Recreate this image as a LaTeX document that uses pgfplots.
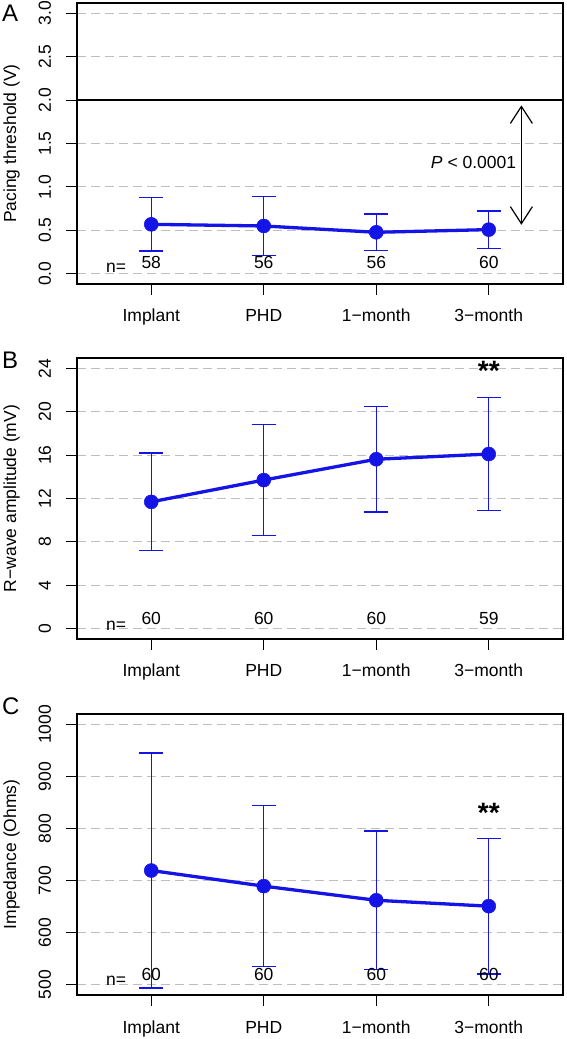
\documentclass[border=0pt]{standalone}
\usepackage{fontspec}
\setmainfont{Liberation Sans}
\usepackage{pgfplots}
\usepackage{pgfplotstable}
\pgfplotsset{compat=1.18}
\usetikzlibrary{arrows.meta}
\definecolor{rblue}{RGB}{20,20,230}
\definecolor{gridgray}{RGB}{190,190,190}
\newcommand\fs{\fontsize{17.5}{20}\selectfont}

\pgfplotstableread{
x y e
1 0.568 0.306
2 0.549 0.343
3 0.476 0.211
4 0.507 0.215
}\dataA
\pgfplotstableread{
x y e
1 11.69 4.51
2 13.70 5.10
3 15.62 4.85
4 16.10 5.20
}\dataB
\pgfplotstableread{
x y e
1 719.2 226
2 689.2 155
3 662.0 133
4 650.7 130
}\dataC

\pgfplotsset{
  rstyle/.style={
    scale only axis, width=486pt, height=281pt,
    anchor=south west,
    xmin=0.34, xmax=4.66,
    xtick={1,2,3,4}, xticklabels={Implant,PHD,1−month,3−month},
    axis line style={line width=1.3pt, black},
    tick align=outside,
    major tick length=11pt,
    every tick/.style={black, line width=1.1pt},
    xtick pos=lower, ytick pos=left,
    ymajorgrids,
    grid style={gridgray, line width=1.1pt, dash pattern=on 9pt off 5pt},
    tick label style={font=\fs},
    xticklabel style={anchor=base, yshift=-27pt},
    yticklabel style={xshift=-15pt, rotate=90, anchor=base},
    ylabel style={at={(axis description cs:-0.1255,0.5)}, anchor=base, font=\fs},
    /pgf/number format/assume math mode=true,
  },
  rline/.style={
    rblue, line width=3.3pt, mark=*, mark size=7pt,
    mark options={fill=rblue, draw=rblue, line width=0.5pt},
  },
  rerr/.style={
    forget plot, draw=none, mark=none,
    error bars/.cd, y dir=both, y explicit,
    error bar style={draw=rblue, line width=1.4pt, solid},
    error mark options={draw=rblue, rotate=90, mark size=12pt, line width=1.4pt, solid},
  },
}

\begin{document}
\begin{tikzpicture}
\useasboundingbox (0,0) rectangle (566pt,1039pt);

% Panel A
\begin{axis}[rstyle, at={(77pt,755pt)},
  ymin=-0.12, ymax=3.12,
  ytick={0,0.5,1,1.5,2,2.5,3},
  yticklabels={0.0,0.5,1.0,1.5,2.0,2.5,3.0},
  ylabel={Pacing threshold (V)}]
  \addplot[black, line width=1.3pt] coordinates {(0.34,2) (4.66,2)};
  \addplot[rerr] table[x=x, y=y, y error=e] {\dataA};
  \addplot[rline] table[x=x, y=y] {\dataA};
  \draw[{Straight Barb[length=17pt,width=22pt]}-{Straight Barb[length=17pt,width=22pt]}, line width=1.2pt]
    (axis cs:4.29,1.94) -- (axis cs:4.29,0.563);
  \node[anchor=east, inner sep=0pt, font=\fs] at (axis cs:4.245,1.276) {\textit{P} < 0.0001};
  \node[font=\fs, inner sep=0pt] at (axis cs:0.687,0.07) {n=};
  \node[font=\fs, inner sep=0pt] at (axis cs:1,0.126) {58};
  \node[font=\fs, inner sep=0pt] at (axis cs:2,0.126) {56};
  \node[font=\fs, inner sep=0pt] at (axis cs:3,0.126) {56};
  \node[font=\fs, inner sep=0pt] at (axis cs:4,0.126) {60};
\end{axis}

% Panel B
\begin{axis}[rstyle, at={(77pt,400pt)},
  ymin=-0.96, ymax=24.96,
  ytick={0,4,8,12,16,20,24},
  yticklabels={0,4,8,12,16,20,24},
  ylabel={R−wave amplitude (mV)}]
  \addplot[rerr] table[x=x, y=y, y error=e] {\dataB};
  \addplot[rline] table[x=x, y=y] {\dataB};
  \node[anchor=north, inner sep=0pt, font=\fontsize{28}{30}\selectfont\bfseries] at (axis cs:4,24.65) {**};
  \node[font=\fs, inner sep=0pt] at (axis cs:0.687,0.28) {n=};
  \node[font=\fs, inner sep=0pt] at (axis cs:1,0.9) {60};
  \node[font=\fs, inner sep=0pt] at (axis cs:2,0.9) {60};
  \node[font=\fs, inner sep=0pt] at (axis cs:3,0.9) {60};
  \node[font=\fs, inner sep=0pt] at (axis cs:4,0.9) {59};
\end{axis}

% Panel C
\begin{axis}[rstyle, at={(77pt,44pt)},
  ymin=480, ymax=1020,
  ytick={500,600,700,800,900,1000},
  yticklabels={500,600,700,800,900,1000},
  ylabel={Impedance (Ohms)}]
  \addplot[rerr] table[x=x, y=y, y error=e] {\dataC};
  \addplot[rline] table[x=x, y=y] {\dataC};
  \node[anchor=north, inner sep=0pt, font=\fontsize{28}{30}\selectfont\bfseries] at (axis cs:4,849) {**};
  \node[font=\fs, inner sep=0pt] at (axis cs:0.687,508) {n=};
  \node[font=\fs, inner sep=0pt] at (axis cs:1,519) {60};
  \node[font=\fs, inner sep=0pt] at (axis cs:2,519) {60};
  \node[font=\fs, inner sep=0pt] at (axis cs:3,519) {60};
  \node[font=\fs, inner sep=0pt] at (axis cs:4,519) {60};
\end{axis}

\node[anchor=north west, inner sep=0pt, font=\fontsize{24}{26}\selectfont] at (2pt,1034pt) {A};
\node[anchor=north west, inner sep=0pt, font=\fontsize{24}{26}\selectfont] at (2pt,687pt) {B};
\node[anchor=north west, inner sep=0pt, font=\fontsize{24}{26}\selectfont] at (2pt,341pt) {C};
\end{tikzpicture}
\end{document}
